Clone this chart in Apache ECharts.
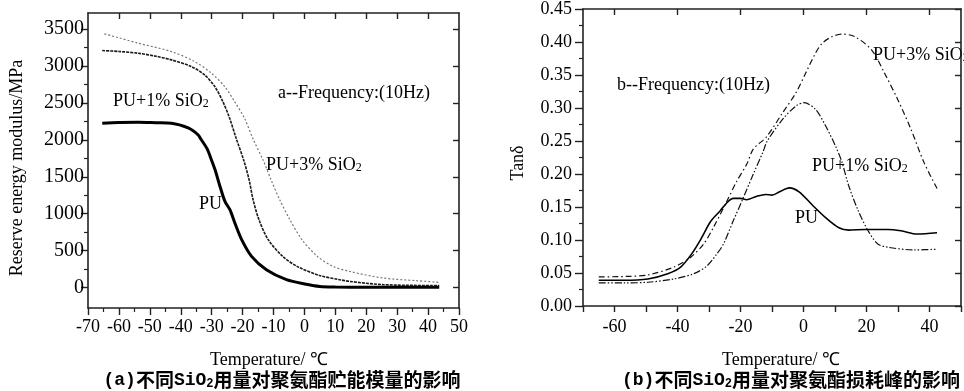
<!DOCTYPE html>
<html><head><meta charset="utf-8">
<script src="https://cdn.jsdelivr.net/npm/echarts@6/dist/echarts.min.js"></script>
<style>html,body{margin:0;padding:0;background:#fff}#c{width:964px;height:391px}</style>
</head><body><div id="c"></div>
<script>
// ---------- Left chart (a): storage modulus ----------
const aTempPU   = [-65.4,-60,-53.8,-48,-43,-37.6,-34.4,-33.5,-31.5,-30,-28.9,-27.3,-25.7,-24.1,-22.5,-20.3,-17.1,-12.3,-5.8,0.6,5,10,20,30,43.6];
const aModPU    = [2225,2235,2239,2232,2225,2160,2068,2010,1880,1720,1595,1369,1166,1054,874,649,423,243,108,45,15,8,6,6,6];
const aTemp1    = [-65.4,-60,-53.8,-48,-43,-36.6,-32.3,-29,-26.4,-24.2,-22.1,-19.6,-17.9,-16.6,-14.7,-11.7,-7,-2,4.9,11.4,14.6,25.4,43.6];
const aMod1     = [3207,3195,3171,3130,3081,2991,2878,2720,2518,2293,2023,1720,1460,1189,919,649,423,280,165,108,85,41,27];
const aTemp3    = [-64.7,-60,-53.8,-43,-35.5,-30.1,-25.8,-22.6,-19.4,-16.5,-13.4,-10.8,-8,-4.7,-0.8,4.2,9.2,14.6,25.4,36.1,43.6];
const aMod3     = [3432,3380,3307,3193,3058,2901,2720,2518,2293,2000,1730,1460,1189,919,649,423,288,220,131,95,72];
const aTempTicksTop = [-60,-50,-40,-30,-20,-10,0,10,20,30,40];
const aModTicks = [0,500,1000,1500,2000,2500,3000,3500];
const aModMinor = [250,750,1250,1750,2250,2750,3250];

// ---------- Right chart (b): tan delta ----------
const bTempPU = [-65,-57,-49.4,-43.1,-39,-35.5,-32.5,-29.5,-26.5,-24,-22.3,-20,-18.1,-15,-12,-10,-7.6,-4.5,-1.4,2.8,7,11.1,14.3,19.5,26.8,30.9,36.1,42.4];
const bTanPU  = [0.039,0.039,0.041,0.049,0.059,0.079,0.102,0.128,0.144,0.158,0.163,0.163,0.161,0.166,0.169,0.168,0.173,0.179,0.173,0.153,0.134,0.119,0.115,0.116,0.116,0.114,0.109,0.111];
const bTemp1  = [-65,-57,-49.4,-41.1,-34.8,-30.6,-27.5,-25.4,-22.3,-19.2,-16.1,-12.9,-11.5,-6.6,-2.4,0.2,3.8,7,10.1,12.2,14.3,17.4,20.5,23.6,26.8,35.1,42.4];
const bTan1   = [0.035,0.035,0.036,0.041,0.049,0.061,0.079,0.094,0.129,0.163,0.198,0.233,0.25,0.283,0.303,0.308,0.298,0.273,0.243,0.218,0.183,0.144,0.114,0.094,0.089,0.085,0.086];
const bTemp3  = [-65,-55,-49.4,-41.1,-35.8,-31.7,-28.6,-24.4,-21.3,-18,-15.9,-11.8,-6.6,-2.4,0.7,3.8,5.9,9,12.2,16.3,21.6,25.7,29.9,34.1,38.2,42.4];
const bTan3   = [0.044,0.045,0.047,0.059,0.074,0.094,0.119,0.158,0.188,0.215,0.238,0.256,0.293,0.323,0.353,0.383,0.398,0.408,0.412,0.408,0.388,0.353,0.313,0.268,0.218,0.178];
const bTempTicksTop = [-60,-40,-20,0,20,40];

const zip = (xs, ys) => xs.map((x, i) => [x, ys[i]]);

const SERIF = '"Liberation Serif","Times New Roman",serif';
const AX = { onZero: false, lineStyle: { color: '#222', width: 1.6 } };
const noSplit = { show: false };

const chart = echarts.init(document.getElementById('c'), null, { renderer: 'canvas' });

const sub = { fontSize: 12, fontFamily: SERIF, verticalAlign: 'bottom', lineHeight: 8, fill: '#000' };
const capSub = { fontSize: 12, fontFamily: '"Liberation Mono",monospace', fontWeight: 'bold', verticalAlign: 'bottom', lineHeight: 8, fill: '#000' };
const mono = { fontSize: 18, fontFamily: '"Liberation Mono",monospace', fontWeight: 'bold', fill: '#000' };

function label(text, x, y, opts) {
  return Object.assign({
    type: 'text', x: x, y: y, silent: true,
    style: Object.assign({ text: text, fontSize: 18, fontFamily: SERIF, fill: '#000',
      align: 'left', verticalAlign: 'middle', rich: { sub: sub } }, (opts && opts.style) || {})
  }, (opts && opts.el) || {});
}

const option = {
  animation: false,
  backgroundColor: '#fff',
  grid: [
    { left: 88, top: 13, width: 371, height: 295 },
    { left: 583, top: 5, width: 384, height: 301 }
  ],
  xAxis: [
    { gridIndex: 0, type: 'value', position: 'bottom', min: -70, max: 50, interval: 10,
      axisLine: AX, axisTick: { inside: false, length: 7, lineStyle: { color: '#222', width: 1.4 } },
      minorTick: { show: true, splitNumber: 2, length: 4, lineStyle: { color: '#222', width: 1.2 } },
      axisLabel: { fontSize: 18, fontFamily: SERIF, color: '#000', margin: 10, formatter: v => String(v) },
      splitLine: noSplit },
    { gridIndex: 0, type: 'value', position: 'top', min: -70, max: 50,
      axisLine: AX, axisTick: { inside: true, length: 6, customValues: aTempTicksTop, lineStyle: { color: '#222', width: 1.4 } },
      axisLabel: { show: false }, splitLine: noSplit },
    { gridIndex: 1, type: 'value', position: 'bottom', min: -70, max: 50, interval: 10,
      axisLine: AX, axisTick: { inside: false, length: 6, lineStyle: { color: '#222', width: 1.4 } },
      axisLabel: { fontSize: 18, fontFamily: SERIF, color: '#000', margin: 12,
        formatter: v => (Math.round(v) % 20 === 0 ? String(v) : '') },
      splitLine: noSplit },
    { gridIndex: 1, type: 'value', position: 'top', min: -70, max: 50,
      axisLine: AX, axisTick: { inside: true, length: 6, customValues: bTempTicksTop, lineStyle: { color: '#222', width: 1.4 } },
      axisLabel: { show: false }, splitLine: noSplit }
  ],
  yAxis: [
    { gridIndex: 0, type: 'value', position: 'left', min: -275, max: 3715,
      axisLine: AX,
      axisTick: { inside: false, length: 7, customValues: aModTicks, lineStyle: { color: '#222', width: 1.4 } },
      axisLabel: { fontSize: 20, fontFamily: SERIF, color: '#000', margin: 4, customValues: aModTicks, formatter: v => String(v) },
      splitLine: noSplit },
    { gridIndex: 0, type: 'value', position: 'left', min: -275, max: 3715,
      axisLine: { show: false, onZero: false },
      axisTick: { inside: false, length: 4, customValues: aModMinor, lineStyle: { color: '#222', width: 1.2 } },
      axisLabel: { show: false }, splitLine: noSplit },
    { gridIndex: 0, type: 'value', position: 'right', min: -275, max: 3715,
      axisLine: AX,
      axisTick: { inside: true, length: 6, customValues: aModTicks, lineStyle: { color: '#222', width: 1.4 } },
      axisLabel: { show: false }, splitLine: noSplit },
    { gridIndex: 1, type: 'value', position: 'left', min: 0, max: 0.45, interval: 0.05,
      axisLine: AX,
      axisTick: { inside: false, length: 8, lineStyle: { color: '#222', width: 1.4 } },
      minorTick: { show: true, splitNumber: 2, length: 4, lineStyle: { color: '#222', width: 1.2 } },
      axisLabel: { fontSize: 18, fontFamily: SERIF, color: '#000', margin: 11, formatter: v => v.toFixed(2) },
      splitLine: noSplit },
    { gridIndex: 1, type: 'value', position: 'right', min: 0, max: 0.45, interval: 0.05,
      axisLine: AX,
      axisTick: { inside: true, length: 6, lineStyle: { color: '#222', width: 1.4 } },
      axisLabel: { show: false }, splitLine: noSplit }
  ],
  series: [
    { name: 'PU', type: 'line', xAxisIndex: 0, yAxisIndex: 0, data: zip(aTempPU, aModPU),
      showSymbol: false, smooth: 0.3, lineStyle: { color: '#000', width: 3 } },
    { name: 'PU+1% SiO2', type: 'line', xAxisIndex: 0, yAxisIndex: 0, data: zip(aTemp1, aMod1),
      showSymbol: false, smooth: 0.3, lineStyle: { color: '#1a1a1a', width: 1.6, type: [3, 1] } },
    { name: 'PU+3% SiO2', type: 'line', xAxisIndex: 0, yAxisIndex: 0, data: zip(aTemp3, aMod3),
      showSymbol: false, smooth: 0.3, lineStyle: { color: '#777', width: 1.2, type: [2, 2] } },
    { name: 'PU', type: 'line', xAxisIndex: 2, yAxisIndex: 3, data: zip(bTempPU, bTanPU),
      showSymbol: false, smooth: 0.3, lineStyle: { color: '#000', width: 1.6 } },
    { name: 'PU+1% SiO2', type: 'line', xAxisIndex: 2, yAxisIndex: 3, data: zip(bTemp1, bTan1),
      showSymbol: false, smooth: 0.3, lineStyle: { color: '#111', width: 1.2, type: [7, 2, 1.5, 2, 1.5, 2] } },
    { name: 'PU+3% SiO2', type: 'line', xAxisIndex: 2, yAxisIndex: 3, data: zip(bTemp3, bTan3),
      showSymbol: false, smooth: 0.3, lineStyle: { color: '#111', width: 1.2, type: [6, 3, 1.5, 3] } }
  ],
  graphic: [
    // left chart texts
    label('a--Frequency:(10Hz)', 278, 93),
    label('PU+1% SiO{sub|2}', 113, 101),
    label('PU+3% SiO{sub|2}', 266, 165),
    label('PU', 199, 204),
    label('Temperature/ ℃', 269, 360, { style: { align: 'center' } }),
    label('Reserve energy modulus/MPa', 17, 168, { style: { align: 'center' }, el: { rotation: Math.PI / 2 } }),
    label('{m|(a)}不同{m|SiO}{cs|2}用量对聚氨酯贮能模量的影响', 282, 380,
      { style: { align: 'center', fontSize: 19, fontWeight: 'bold', fontFamily: '"Noto Sans CJK SC",sans-serif',
        rich: { m: mono, cs: capSub } } }),
    // right chart texts
    label('b--Frequency:(10Hz)', 617, 85),
    label('PU+3% SiO{sub|2}', 873, 55),
    label('PU+1% SiO{sub|2}', 812, 166),
    label('PU', 795, 218),
    label('Temperature/ ℃', 781, 360, { style: { align: 'center' } }),
    label('Tanδ', 518, 163, { style: { align: 'center' }, el: { rotation: Math.PI / 2 } }),
    label('{m|(b)}不同{m|SiO}{cs|2}用量对聚氨酯损耗峰的影响', 791, 380,
      { style: { align: 'center', fontSize: 19, fontWeight: 'bold', fontFamily: '"Noto Sans CJK SC",sans-serif',
        rich: { m: mono, cs: capSub } } })
  ]
};
chart.setOption(option);
</script>
</body></html>
